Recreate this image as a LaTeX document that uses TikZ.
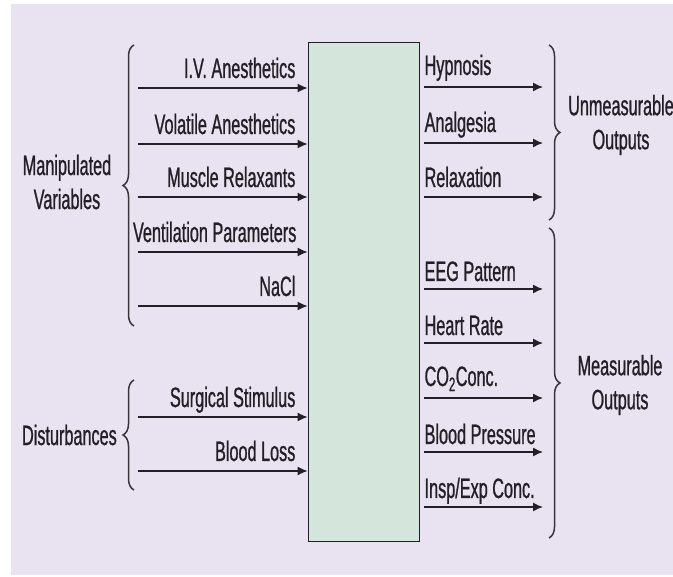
\documentclass[tikz,border=0pt]{standalone}
\usepackage{fontspec}
\setmainfont{Liberation Sans}[FakeStretch=0.58,FakeBold=0.8]
\usetikzlibrary{arrows.meta,decorations.pathreplacing}
\definecolor{bgcol}{RGB}{233,226,240}
\definecolor{plantcol}{RGB}{212,230,220}
\definecolor{inkcol}{RGB}{35,31,38}

\begin{document}
\begin{tikzpicture}[x=1pt,y=-1pt,
    font=\fontsize{28}{34}\selectfont,
    sig/.style={draw=inkcol,line width=1.4pt,-{Latex[length=10pt,width=9pt]}},
    inlab/.style={anchor=base east,inner sep=0pt,text=inkcol},
    outlab/.style={anchor=base west,inner sep=0pt,text=inkcol},
    brc/.style={draw=inkcol!90,line width=1.5pt,decorate,decoration={brace,amplitude=11pt}},
    grp/.style={align=center,inner sep=0pt,text=inkcol}]
        \useasboundingbox (0,0) rectangle (673,577);
        \fill[bgcol] (11,4) rectangle (673,575);
        \node[draw=inkcol,fill=plantcol,line width=0.8pt,minimum width=111pt,minimum height=499pt,inner sep=0pt] (plant) at (363.5,291.5) {};
        % inputs
        \coordinate (iv) at (138,88);
        \coordinate (vol) at (138,144);
        \coordinate (mus) at (138,197);
        \coordinate (vent) at (138,252);
        \coordinate (nacl) at (138,306);
        \coordinate (surg) at (138,417);
        \coordinate (loss) at (138,471);
        \draw[sig] (iv) -- (iv -| plant.west);
        \draw[sig] (vol) -- (vol -| plant.west);
        \draw[sig] (mus) -- (mus -| plant.west);
        \draw[sig] (vent) -- (vent -| plant.west);
        \draw[sig] (nacl) -- (nacl -| plant.west);
        \draw[sig] (surg) -- (surg -| plant.west);
        \draw[sig] (loss) -- (loss -| plant.west);
        \node[inlab] (iv-lab) at ([xshift=-12pt,yshift=10pt]iv -| plant.west) {I.V. Anesthetics};
        \node[inlab] (vol-lab) at ([xshift=-12pt,yshift=10pt]vol -| plant.west) {Volatile Anesthetics};
        \node[inlab] (mus-lab) at ([xshift=-12pt,yshift=10pt]mus -| plant.west) {Muscle Relaxants};
        \node[inlab] (vent-lab) at ([xshift=-11pt,yshift=10pt]vent -| plant.west) {Ventilation Parameters};
        \node[inlab] (nacl-lab) at ([xshift=-12pt,yshift=10pt]nacl -| plant.west) {NaCl};
        \node[inlab] (surg-lab) at ([xshift=-12pt,yshift=10pt]surg -| plant.west) {Surgical Stimulus};
        \node[inlab] (loss-lab) at ([xshift=-12pt,yshift=10pt]loss -| plant.west) {Blood Loss};
        % outputs
        \coordinate (hyp) at (543,87);
        \coordinate (analg) at (543,143);
        \coordinate (relax) at (543,197);
        \coordinate (eeg) at (543,289);
        \coordinate (hr) at (543,343);
        \coordinate (co2) at (543,398);
        \coordinate (bp) at (543,452);
        \coordinate (insp) at (543,507);
        \draw[sig] ([xshift=5pt]hyp -| plant.east) -- (hyp);
        \draw[sig] ([xshift=5pt]analg -| plant.east) -- (analg);
        \draw[sig] ([xshift=5pt]relax -| plant.east) -- (relax);
        \draw[sig] ([xshift=5pt]eeg -| plant.east) -- (eeg);
        \draw[sig] ([xshift=5pt]hr -| plant.east) -- (hr);
        \draw[sig] ([xshift=5pt]co2 -| plant.east) -- (co2);
        \draw[sig] ([xshift=5pt]bp -| plant.east) -- (bp);
        \draw[sig] ([xshift=5pt]insp -| plant.east) -- (insp);
        \node[outlab] (hyp-lab) at ([xshift=5pt,yshift=12pt]hyp -| plant.east) {Hypnosis};
        \node[outlab] (analg-lab) at ([xshift=5pt,yshift=11pt]analg -| plant.east) {Analgesia};
        \node[outlab] (relax-lab) at ([xshift=5pt,yshift=10pt]relax -| plant.east) {Relaxation};
        \node[outlab] (eeg-lab) at ([xshift=5pt,yshift=8pt]eeg -| plant.east) {EEG Pattern};
        \node[outlab] (hr-lab) at ([xshift=5pt,yshift=8pt]hr -| plant.east) {Heart Rate};
        \node[outlab] (co2-lab) at ([xshift=5pt,yshift=12pt]co2 -| plant.east) {CO\textsubscript{2}Conc.};
        \node[outlab] (bp-lab) at ([xshift=5pt,yshift=8pt]bp -| plant.east) {Blood Pressure};
        \node[outlab] (insp-lab) at ([xshift=5pt,yshift=9pt]insp -| plant.east) {Insp/Exp Conc.};
        % braces and group names
        \draw[brc] (134,326) -- (134,45);
        \draw[brc] (134,490) -- (134,380);
        \draw[brc] (549,45) -- (549,220);
        \draw[brc] (549,228) -- (549,538);
        \node[grp] (manip) at (67,182) {Manipulated\\Variables};
        \node[grp,anchor=east] (dist) at (117,435) {Disturbances};
        \node[grp] (unmeas) at (621,125) {Unmeasurable\\Outputs};
        \node[grp] (meas) at (620,385) {Measurable\\Outputs};
\end{tikzpicture}
\end{document}
